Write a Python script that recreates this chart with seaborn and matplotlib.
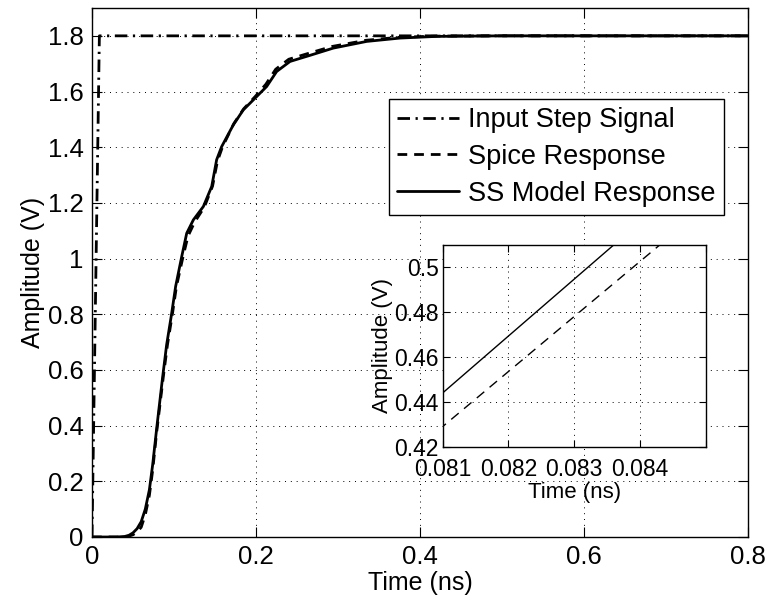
import matplotlib
matplotlib.use("Agg")
import matplotlib.pyplot as plt
import numpy as np
import pandas as pd
import seaborn as sns
from matplotlib.ticker import FuncFormatter

# ---- data ----
t_input = [0.0, 0.009, 0.8]
v_input = [0.0, 1.8, 1.8]

t_spice = [0.0, 0.035, 0.045, 0.05, 0.055, 0.06, 0.065, 0.07, 0.074, 0.079, 0.081,
           0.0843, 0.087, 0.092, 0.098, 0.103, 0.1105, 0.117, 0.125, 0.137, 0.147,
           0.153, 0.159, 0.173, 0.185, 0.199, 0.212, 0.224, 0.24, 0.265, 0.293,
           0.334, 0.375, 0.42, 0.5, 0.6, 0.8]
v_spice = [0.0, 0.0, 0.003, 0.008, 0.018, 0.035, 0.08, 0.15, 0.24, 0.38, 0.429,
           0.510, 0.576, 0.69, 0.8, 0.9, 1.0, 1.08, 1.13, 1.185, 1.26,
           1.35, 1.40, 1.485, 1.538, 1.582, 1.626, 1.68, 1.716, 1.738, 1.762,
           1.784, 1.795, 1.799, 1.8, 1.8, 1.8]

t_ss = [0.0, 0.03, 0.04, 0.045, 0.05, 0.055, 0.06, 0.065, 0.07, 0.074, 0.079, 0.081,
        0.0836, 0.086, 0.091, 0.097, 0.102, 0.1094, 0.1155, 0.1236, 0.1358, 0.146,
        0.152, 0.1581, 0.1723, 0.1845, 0.1988, 0.213, 0.2252, 0.2415, 0.2659,
        0.2943, 0.335, 0.3756, 0.42, 0.5, 0.6, 0.8]
v_ss = [0.0, 0.0, 0.002, 0.006, 0.015, 0.03, 0.055, 0.1, 0.17, 0.26, 0.393, 0.444,
        0.510, 0.571, 0.69, 0.8, 0.9, 1.007, 1.091, 1.139, 1.187, 1.259,
        1.355, 1.402, 1.480, 1.534, 1.576, 1.618, 1.672, 1.708, 1.730,
        1.756, 1.78, 1.792, 1.798, 1.8, 1.8, 1.8]

labels = ["Input Step Signal", "Spice Response", "SS Model Response"]
main_xticks = [0, 0.2, 0.4, 0.6, 0.8]
main_yticks = [0, 0.2, 0.4, 0.6, 0.8, 1.0, 1.2, 1.4, 1.6, 1.8]
inset_xticks = [0.081, 0.082, 0.083, 0.084, 0.085]
inset_xlabels = ["0.081", "0.082", "0.083", "0.084", ""]
inset_yticks = [0.42, 0.44, 0.46, 0.48, 0.5]

# ---- styling ----
sns.set_theme(style="white")
plt.rcParams["font.family"] = ["Liberation Sans", "DejaVu Sans"]
plt.rcParams["axes.edgecolor"] = "black"
plt.rcParams["text.color"] = "black"
plt.rcParams["axes.labelcolor"] = "black"
plt.rcParams["xtick.color"] = "black"
plt.rcParams["ytick.color"] = "black"

fig = plt.figure(figsize=(7.68, 6.05), dpi=100)
fig.patch.set_facecolor("white")

df_in = pd.DataFrame({"t": t_input, "v": v_input})
df_sp = pd.DataFrame({"t": t_spice, "v": v_spice})
df_ss = pd.DataFrame({"t": t_ss, "v": v_ss})

dashdot = (0, (4.5, 2.0, 0.8, 2.0))
dashed = (0, (3.5, 2.5))

grid_kw = dict(color="black", linestyle=(0, (1, 5)), linewidth=0.7)


def style_axes(a, fs, ticklen, pad):
    for s in a.spines.values():
        s.set_linewidth(1.0)
        s.set_color("black")
    a.tick_params(direction="in", length=ticklen, width=0.8, labelsize=fs,
                  top=True, right=True, bottom=True, left=True, pad=pad)
    a.grid(True, **grid_kw)
    a.set_axisbelow(False)


fmt = FuncFormatter(lambda v, p: ("%g" % round(v, 6)))

# ---- main axes ----
ax = fig.add_axes([92 / 768, 68 / 605, 656 / 768, 529 / 605])
sns.lineplot(data=df_in, x="t", y="v", ax=ax, color="black", lw=2.0,
             linestyle=dashdot, label=labels[0], estimator=None, sort=False)
sns.lineplot(data=df_sp, x="t", y="v", ax=ax, color="black", lw=2.0,
             linestyle=dashed, label=labels[1], estimator=None, sort=False)
sns.lineplot(data=df_ss, x="t", y="v", ax=ax, color="black", lw=2.0,
             linestyle="-", label=labels[2], estimator=None, sort=False)
ax.set_xlim(0, 0.8)
ax.set_ylim(0, 1.9)
ax.set_xticks(main_xticks)
ax.set_yticks(main_yticks)
ax.xaxis.set_major_formatter(fmt)
ax.yaxis.set_major_formatter(fmt)
style_axes(ax, 18.5, 7, 6)
ax.set_xlabel("Time (ns)", fontsize=18, labelpad=1)
ax.set_ylabel("Amplitude (V)", fontsize=18, labelpad=2)

leg = ax.legend(loc="upper left", bbox_to_anchor=(0.452, 0.828), borderaxespad=0,
                fontsize=19.5, frameon=True, fancybox=False, framealpha=1,
                edgecolor="black", handlelength=2.3, handletextpad=0.35,
                labelspacing=0.4, borderpad=0.3)
leg.get_frame().set_linewidth(1.0)

# ---- inset axes ----
axi = fig.add_axes([442.7 / 768, (605 - 446.7) / 605, 263 / 768, 201.7 / 605])
axi.set_facecolor("white")
sns.lineplot(data=df_sp, x="t", y="v", ax=axi, color="black", lw=1.0,
             linestyle=(0, (7, 5)), estimator=None, sort=False, legend=False)
sns.lineplot(data=df_ss, x="t", y="v", ax=axi, color="black", lw=1.0,
             linestyle="-", estimator=None, sort=False, legend=False)
axi.set_xlim(0.081, 0.085)
axi.set_ylim(0.42, 0.51)
axi.set_xticks(inset_xticks)
axi.set_xticklabels(inset_xlabels)
axi.set_yticks(inset_yticks)
axi.yaxis.set_major_formatter(fmt)
style_axes(axi, 16.5, 5, 3)
axi.tick_params(axis="x", pad=8)
axi.set_xlabel("Time (ns)", fontsize=16, labelpad=1)
axi.set_ylabel("Amplitude (V)", fontsize=16, labelpad=1)

fig.savefig("out.png", dpi=100, facecolor="white")
